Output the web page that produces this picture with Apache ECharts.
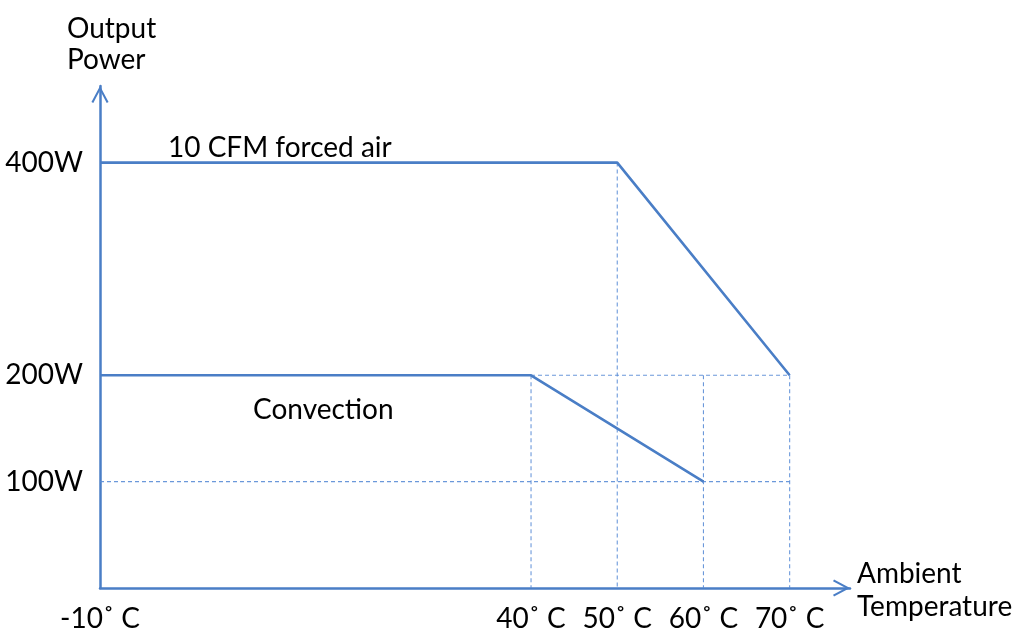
<!DOCTYPE html>
<html><head><meta charset="utf-8">
<script src="https://cdn.jsdelivr.net/npm/echarts@6/dist/echarts.min.js"></script>
<style>html,body{margin:0;padding:0;background:#fff;} #c{width:1029px;height:633px;}</style>
</head><body><div id="c"></div>
<script>
// ---- data ----
const forcedAirTemps = [-10, 50, 70];
const forcedAirPower = [400, 400, 200];
const convectionTemps = [-10, 40, 60];
const convectionPower = [200, 200, 100];
const xTickValues = [-10, 40, 50, 60, 70];
const yTickValues = [100, 200, 400];
const guideStarts = [[40, 200], [50, 400], [60, 200], [70, 200], [40, 200], [-10, 100]];
const guideEnds   = [[40, 0],   [50, 0],   [60, 0],   [70, 0],   [70, 200], [70, 100]];
const forcedAirLabel = '10 CFM forced air';
const convectionLabel = 'Convection';
const yAxisName = 'Output\nPower';
const xAxisName = 'Ambient\nTemperature';

// ---- style ----
const BLUE = '#4A7EC6';
const GUIDE = '#5B8DD6';
const FONT = 'Lato';
const FS = 28;
const chevron = 'path://M0,28 L15,0 L30,28 L26.8,29.8 L15,7.6 L3.2,29.8 Z';

const chart = echarts.init(document.getElementById('c'), null, {renderer: 'canvas'});
const zip = (a, b) => a.map((v, i) => [v, b[i]]);

const axisLineCommon = {
  show: true,
  onZero: false,
  symbol: ['none', chevron],
  symbolSize: [18, 17],
  symbolOffset: [0, -8.5],
  lineStyle: {color: BLUE, width: 2.5}
};

const guideSeries = guideStarts.map((s, i) => ({
  type: 'line', z: 1, silent: true, symbol: 'none',
  lineStyle: {color: GUIDE, width: 1.1, type: [4, 3], opacity: 0.9},
  data: [s, guideEnds[i]]
}));

chart.setOption({
  animation: false,
  backgroundColor: '#fff',
  grid: {left: 100, right: 179, top: 86, bottom: 41.3, containLabel: false},
  xAxis: {
    type: 'value', min: -10, max: 77,
    axisLine: axisLineCommon,
    axisTick: {show: false},
    splitLine: {show: false},
    axisLabel: {
      customValues: xTickValues,
      formatter: v => v + '˚ C',
      fontFamily: FONT, fontSize: FS, color: '#000', margin: 17
    }
  },
  yAxis: {
    type: 'value', min: 0, max: 472,
    axisLine: axisLineCommon,
    axisTick: {show: false},
    splitLine: {show: false},
    axisLabel: {
      customValues: yTickValues,
      formatter: v => v + 'W',
      fontFamily: FONT, fontSize: FS, color: '#000', margin: 17
    }
  },
  series: guideSeries.concat([
    {
      type: 'line', name: forcedAirLabel, z: 3, symbol: 'none',
      lineStyle: {color: BLUE, width: 2.6},
      data: zip(forcedAirTemps, forcedAirPower)
    },
    {
      type: 'line', name: convectionLabel, z: 3, symbol: 'none',
      lineStyle: {color: BLUE, width: 2.6},
      data: zip(convectionTemps, convectionPower)
    }
  ]),
  graphic: [
    {type: 'text', left: 168, top: 134, style: {text: forcedAirLabel, font: FS + 'px ' + FONT, fill: '#000'}},
    {type: 'text', left: 253, top: 396, style: {text: convectionLabel, font: FS + 'px ' + FONT, fill: '#000'}},
    {type: 'text', left: 67, top: 13, style: {text: yAxisName, font: FS + 'px ' + FONT, fill: '#000', lineHeight: 31}},
    {type: 'text', left: 857, top: 557, style: {text: xAxisName, font: FS + 'px ' + FONT, fill: '#000', lineHeight: 33}}
  ]
});
</script>
</body></html>
